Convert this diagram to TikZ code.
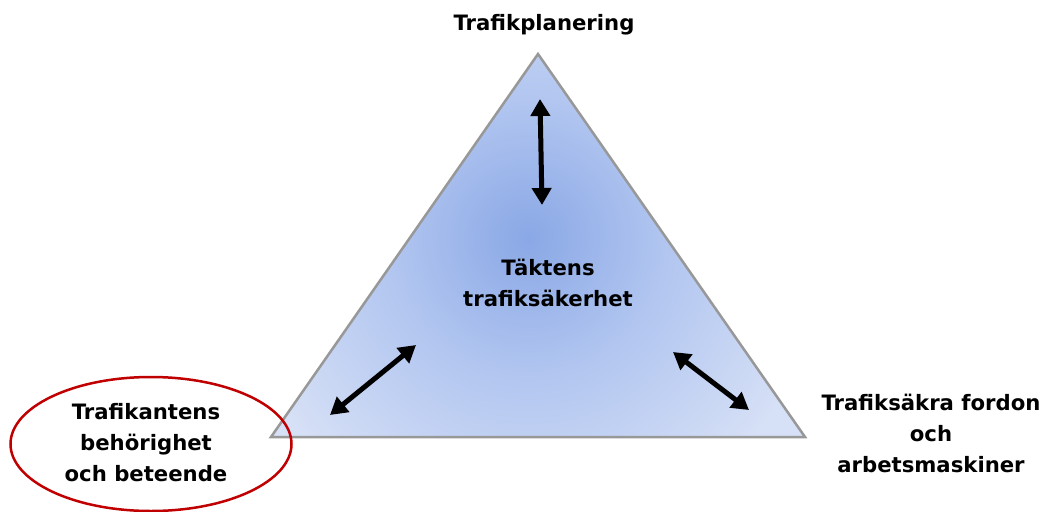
\documentclass[tikz,border=0pt]{standalone}
\usepackage{fontspec}
\setmainfont{DejaVu Sans}
\usetikzlibrary{arrows.meta,shapes.geometric}
\definecolor{tricenter}{RGB}{138,168,230}
\definecolor{trimid}{RGB}{178,198,240}
\definecolor{triedge}{RGB}{214,224,246}
\definecolor{trigray}{RGB}{152,152,152}
\definecolor{ellred}{RGB}{192,0,0}
\pgfdeclareradialshading{triglow}{\pgfpoint{0pt}{0pt}}{color(0pt)=(tricenter); color(140pt)=(trimid); color(300pt)=(triedge); color(420pt)=(triedge)}
\tikzset{
  lbl/.style={font=\bfseries\fontsize{21.2}{31}\selectfont, align=center, inner sep=0pt},
  dblarrow/.style={line width=5pt, {Triangle[width=19pt,length=17pt]}-{Triangle[width=19pt,length=17pt]}, black},
}
\begin{document}
\begin{tikzpicture}[x=1pt,y=-1pt]
\useasboundingbox (0,0) rectangle (1043,511);
\coordinate (A) at (538,54);
\coordinate (L) at (271,437);
\coordinate (R) at (805,437);
\begin{scope}
  \clip (A) -- (L) -- (R) -- cycle;
  \fill[triedge] (A) -- (L) -- (R) -- cycle;
  \node[inner sep=0pt, outer sep=0pt] (glow) at (528,238) {\pgfuseshading{triglow}};
\end{scope}
\draw[trigray, line width=2.5pt, line join=miter] (A) -- (L) -- (R) -- cycle;
\node[lbl] (top) at (544,25) {Trafikplanering};
\node[lbl] (mid) at (548,283) {Täktens\\trafiksäkerhet};
\node[lbl] (right) at (931,433) {Trafiksäkra fordon\\och\\arbetsmaskiner};
\node[draw=ellred, line width=2.5pt, ellipse, minimum width=281pt, minimum height=134pt, inner sep=0pt] (ell) at (151,444) {};
\node[lbl] (left) at (146,443) {Trafikantens\\behörighet\\och beteende};
\coordinate (t1) at (540,99);
\coordinate (t2) at (542,205);
\coordinate (l1) at (330,415);
\coordinate (l2) at (416,345);
\coordinate (r1) at (673,352);
\coordinate (r2) at (749,410);
\draw[dblarrow] (t1) -- (t2);
\draw[dblarrow] (l1) -- (l2);
\draw[dblarrow] (r1) -- (r2);
\end{tikzpicture}
\end{document}
